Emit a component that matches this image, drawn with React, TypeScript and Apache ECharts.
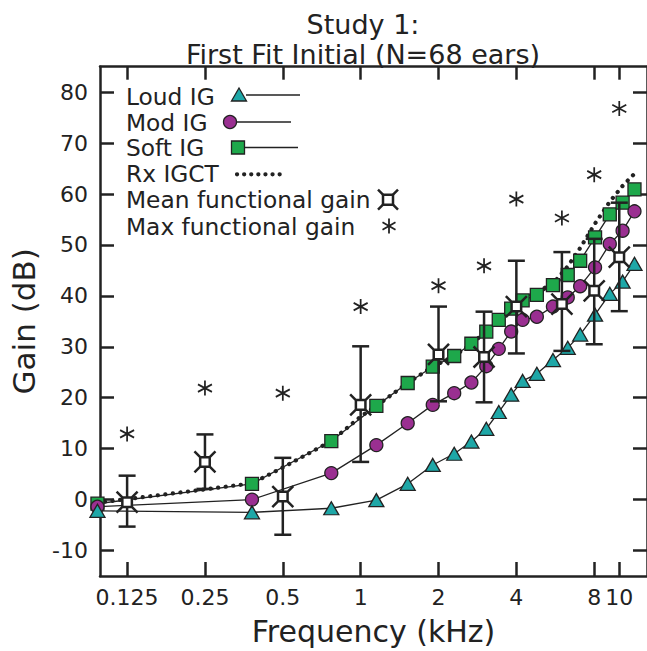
import React, { useEffect, useRef } from "react";
import * as echarts from "echarts";

// ---------- data ----------
const igFreqs = [0.096, 0.38, 0.77, 1.15, 1.52, 1.9, 2.3, 2.68, 3.06, 3.42, 3.82, 4.23, 4.8, 5.54, 6.32, 7.06, 8.06, 9.19, 10.3, 11.45];
const loudIG = [-2.2, -2.5, -1.7, -0.1, 3.1, 6.8, 9.0, 11.4, 13.9, 17.2, 20.6, 23.3, 24.7, 27.4, 29.8, 32.4, 36.3, 40.4, 42.8, 46.3];
const modIG = [-1.4, 0.0, 5.2, 10.7, 15.0, 18.6, 20.9, 23.0, 26.2, 29.6, 33.0, 35.3, 35.9, 37.9, 39.7, 41.9, 45.6, 50.2, 52.8, 56.6];
const softIG = [-0.8, 3.1, 11.5, 18.4, 22.9, 26.1, 28.2, 30.6, 33.0, 35.3, 37.5, 39.1, 40.2, 42.1, 44.1, 46.9, 51.5, 56.0, 58.3, 60.9];

const rxFreqs = [0.096, 0.125, 0.25, 0.38, 0.5, 0.77, 1.0, 1.15, 1.52, 1.9, 2.3, 2.68, 3.06, 3.42, 3.82, 4.23, 4.8, 5.54, 6.32, 7.06, 8.06, 9.19, 10.3, 11.45];
const rxIGCT = [-0.6, 0.1, 2.0, 3.2, 6.3, 11.5, 16.3, 18.4, 22.9, 26.1, 28.2, 30.6, 33.0, 35.3, 37.4, 39.2, 40.8, 42.4, 45.8, 49.4, 54.2, 58.5, 61.6, 64.0];

const meanFreqs = [0.125, 0.25, 0.5, 1, 2, 3, 4, 6, 8, 10];
const meanGain = [-0.5, 7.4, 0.6, 18.6, 28.5, 28.0, 37.9, 38.4, 41.0, 47.6];
const errHigh = [4.7, 12.8, 8.2, 30.1, 37.9, 36.9, 46.9, 48.6, 51.2, 58.3];
const errLow = [-5.3, 2.1, -6.9, 7.4, 19.3, 19.1, 28.7, 29.2, 30.5, 37.0];
const maxGain = [12.9, 21.9, 20.9, 37.9, 42.0, 45.9, 59.0, 55.3, 63.8, 76.8];

const xTicks = [0.125, 0.25, 0.5, 1, 2, 4, 8, 10];
const yTicks = [-10, 0, 10, 20, 30, 40, 50, 60, 70, 80];

const legendLabels = ["Loud IG", "Mod IG", "Soft IG", "Rx IGCT", "Mean functional gain", "Max functional gain"];

// ---------- style ----------
const INK = "#222222";
const TEAL = "#1EA7A7";
const PURPLE = "#9A2F91";
const GREEN = "#1EA84B";
const FONT = "DejaVu Sans";

const MEAN_SYMBOL = "path://M6 6L16 6L16 16L6 16Z M6 6L0 0 M16 6L22 0 M16 16L22 22 M6 16L0 22";
const STAR_SYMBOL = "path://M7 0L7 14 M0.9 3.5L13.1 10.5 M0.9 10.5L13.1 3.5";

export default function App() {
  const ref = useRef<HTMLDivElement>(null);
  useEffect(() => {
    document.body.style.margin = "0";
    const chart = echarts.init(ref.current!, null, { renderer: "svg" });

    const xMin = 0.0982;
    const xMax = 12.8;

    const baseX = {
      type: "log",
      min: xMin,
      max: xMax,
      logBase: 2,
      splitLine: { show: false },
      minorTick: { show: false },
    };

    const lineSeries = (name: string, ys: number[], symbol: string, size: number | number[], color: string) => ({
      name,
      type: "line",
      data: igFreqs.map((f, i) => [f, ys[i]]),
      symbol,
      symbolSize: size,
      clip: false,
      lineStyle: { color: INK, width: 1.3 },
      itemStyle: { color, borderColor: INK, borderWidth: 1.3 },
      z: 3,
    });

    const rowY = [96, 122, 147.5, 173.3, 199.7, 226];
    const lx = 126;
    const textStyle = (t: string, y: number) => ({
      type: "text",
      x: lx,
      y,
      style: { text: t, font: `23.3px "${FONT}"`, fill: INK, textVerticalAlign: "middle", verticalAlign: "middle" },
    });
    const seg = (x1: number, y1: number, x2: number, y2: number, w = 1.3) => ({
      type: "line",
      shape: { x1, y1, x2, y2 },
      style: { stroke: INK, lineWidth: w },
    });

    const mx = 388;
    const sx = 389;
    const legendGraphics: any[] = [
      textStyle(legendLabels[0], rowY[0]),
      textStyle(legendLabels[1], rowY[1]),
      textStyle(legendLabels[2], rowY[2]),
      textStyle(legendLabels[3], rowY[3]),
      textStyle(legendLabels[4], rowY[4]),
      textStyle(legendLabels[5], rowY[5]),
      seg(246, rowY[0] - 1, 300, rowY[0] - 1),
      {
        type: "polygon",
        shape: { points: [[239, rowY[0] - 8], [246.5, rowY[0] + 5], [231.5, rowY[0] + 5]] },
        style: { fill: TEAL, stroke: INK, lineWidth: 1.3 },
      },
      seg(236, rowY[1], 291, rowY[1]),
      { type: "circle", shape: { cx: 230, cy: rowY[1], r: 6.5 }, style: { fill: PURPLE, stroke: INK, lineWidth: 1.3 } },
      seg(243, rowY[2], 298, rowY[2]),
      { type: "rect", shape: { x: 231.5, y: rowY[2] - 6.5, width: 13, height: 13 }, style: { fill: GREEN, stroke: INK, lineWidth: 1.3 } },
      {
        type: "line",
        shape: { x1: 237, y1: rowY[3] + 1, x2: 286, y2: rowY[3] + 1 },
        style: { stroke: INK, lineWidth: 4.2, lineDash: [0.1, 7], lineCap: "round" },
      },
      { type: "rect", shape: { x: mx - 5, y: rowY[4] - 5, width: 10, height: 10 }, style: { fill: "#fff", stroke: INK, lineWidth: 2.5 } },
      seg(mx - 5, rowY[4] - 5, mx - 10, rowY[4] - 10, 2.5),
      seg(mx + 5, rowY[4] - 5, mx + 10, rowY[4] - 10, 2.5),
      seg(mx + 5, rowY[4] + 5, mx + 10, rowY[4] + 10, 2.5),
      seg(mx - 5, rowY[4] + 5, mx - 10, rowY[4] + 10, 2.5),
      seg(sx, rowY[5] - 7.5, sx, rowY[5] + 7.5, 1.8),
      seg(sx - 6.5, rowY[5] - 3.75, sx + 6.5, rowY[5] + 3.75, 1.8),
      seg(sx - 6.5, rowY[5] + 3.75, sx + 6.5, rowY[5] - 3.75, 1.8),
    ];

    const option: any = {
      animation: false,
      backgroundColor: "#ffffff",
      textStyle: { fontFamily: FONT },
      title: {
        text: "Study 1:\nFirst Fit Initial (N=68 ears)",
        left: 358,
        top: 4,
        textAlign: "center",
        textStyle: { fontFamily: FONT, fontSize: 27, fontWeight: "normal", color: INK, lineHeight: 30 },
      },
      grid: { left: 97, top: 66.7, width: 554, height: 515, containLabel: false },
      xAxis: [
        {
          ...baseX,
          position: "bottom",
          name: "Frequency (kHz)",
          nameLocation: "middle",
          nameGap: 40,
          nameTextStyle: { fontFamily: FONT, fontSize: 30, color: INK },
          axisLine: { onZero: false, lineStyle: { color: INK, width: 2.5 } },
          axisTick: { inside: true, length: 14, lineStyle: { color: INK, width: 2.5 }, customValues: xTicks },
          axisLabel: {
            customValues: xTicks,
            margin: 10,
            fontFamily: FONT,
            fontSize: 22,
            color: INK,
            formatter: (v: number) => String(Math.round(v * 1000) / 1000),
          },
        },
        {
          ...baseX,
          position: "top",
          axisLine: { onZero: false, lineStyle: { color: INK, width: 2.5 } },
          axisTick: { inside: true, length: 13, lineStyle: { color: INK, width: 2.5 }, customValues: xTicks },
          axisLabel: { show: false, customValues: xTicks },
        },
      ],
      yAxis: [
        {
          type: "value",
          min: -15,
          max: 85,
          position: "left",
          name: "Gain (dB)",
          nameLocation: "middle",
          nameRotate: 90,
          nameGap: 61,
          nameTextStyle: { fontFamily: FONT, fontSize: 31, color: INK },
          splitLine: { show: false },
          axisLine: { onZero: false, lineStyle: { color: INK, width: 2.5 } },
          axisTick: { inside: true, length: 14, lineStyle: { color: INK, width: 2.5 }, customValues: yTicks },
          axisLabel: { customValues: yTicks, margin: 12, fontFamily: FONT, fontSize: 22, color: INK },
        },
        {
          type: "value",
          min: -15,
          max: 85,
          position: "right",
          splitLine: { show: false },
          axisLine: { onZero: false, lineStyle: { color: INK, width: 2.5 } },
          axisTick: { inside: true, length: 14, lineStyle: { color: INK, width: 2.5 }, customValues: yTicks },
          axisLabel: { show: false, customValues: yTicks },
        },
      ],
      graphic: legendGraphics,
      series: [
        {
          name: "Rx IGCT",
          type: "line",
          data: rxFreqs.map((f, i) => [f, rxIGCT[i]]),
          showSymbol: false,
          symbol: "none",
          clip: false,
          lineStyle: { color: INK, width: 4.2, type: [0.1, 7.5], cap: "round" },
          z: 2,
        },
        lineSeries("Soft IG", softIG, "rect", 13, GREEN),
        lineSeries("Mod IG", modIG, "circle", 13, PURPLE),
        lineSeries("Loud IG", loudIG, "triangle", [15, 13], TEAL),
        {
          name: "Mean functional gain range",
          type: "custom",
          data: meanFreqs.map((f, i) => [f, errLow[i], errHigh[i]]),
          encode: { x: 0, y: [1, 2] },
          clip: false,
          z: 4,
          renderItem: (_params: any, api: any) => {
            const f = api.value(0);
            const lo = api.coord([f, api.value(1)]);
            const hi = api.coord([f, api.value(2)]);
            const hw = 8.5;
            const style = { stroke: INK, lineWidth: 2.5, fill: "none" };
            return {
              type: "group",
              children: [
                { type: "line", shape: { x1: lo[0], y1: lo[1], x2: hi[0], y2: hi[1] }, style },
                { type: "line", shape: { x1: hi[0] - hw, y1: hi[1], x2: hi[0] + hw, y2: hi[1] }, style },
                { type: "line", shape: { x1: lo[0] - hw, y1: lo[1], x2: lo[0] + hw, y2: lo[1] }, style },
              ],
            };
          },
        },
        {
          name: "Mean functional gain",
          type: "scatter",
          data: meanFreqs.map((f, i) => [f, meanGain[i]]),
          symbol: MEAN_SYMBOL,
          symbolSize: [21, 21],
          clip: false,
          itemStyle: { color: "#ffffff", borderColor: INK, borderWidth: 2.5, opacity: 1 },
          z: 5,
        },
        {
          name: "Max functional gain",
          type: "scatter",
          data: meanFreqs.map((f, i) => [f, maxGain[i]]),
          symbol: STAR_SYMBOL,
          symbolSize: [14, 15],
          clip: false,
          itemStyle: { color: "rgba(0,0,0,0)", borderColor: INK, borderWidth: 1.8, opacity: 1 },
          z: 5,
        },
      ],
    };

    chart.setOption(option);
    return () => chart.dispose();
  }, []);

  return <div ref={ref} style={{ width: 647, height: 651 }} />;
}
